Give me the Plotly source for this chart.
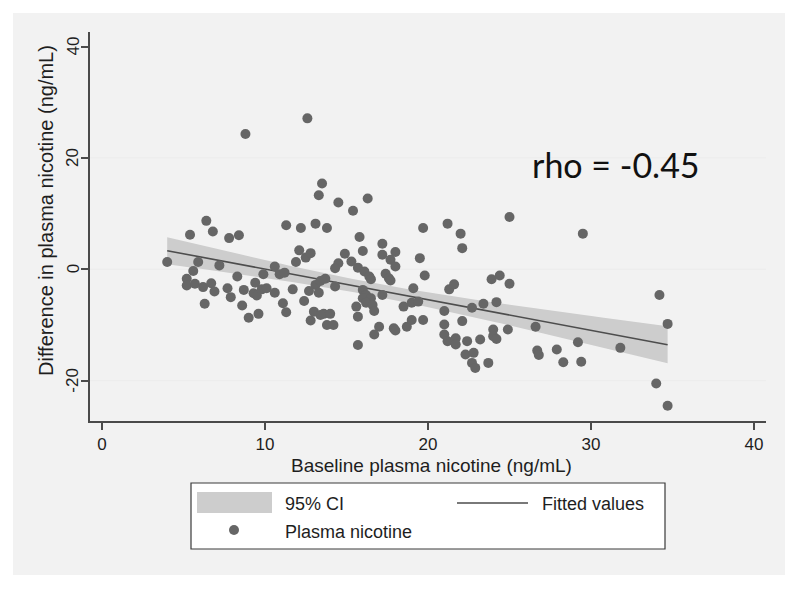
import numpy as np
import plotly.graph_objects as go

# ---- data ----
baseline = [
    4.0, 5.4, 6.4, 6.8, 7.8, 8.4, 8.8, 5.9, 5.6, 5.2,
    5.2, 5.7, 6.2, 6.7, 6.9, 7.2, 6.3, 7.7, 7.9, 8.3,
    8.6, 8.7, 9.0, 9.6, 9.4, 9.3, 9.5, 9.8, 9.9, 10.1,
    10.6, 10.6, 10.9, 11.2, 11.1, 11.3, 11.7, 11.3, 12.2, 13.1,
    11.9, 12.1, 12.5, 12.8, 12.4, 12.8, 13.0, 13.1, 12.7, 12.6,
    13.5, 13.3, 14.5, 15.4, 16.3, 13.8, 15.8, 17.2, 19.7, 21.2,
    22.0, 22.1, 16.0, 17.2, 18.0, 17.7, 18.0, 14.9, 14.5, 14.3,
    15.3, 15.7, 16.1, 16.4, 16.5, 17.4, 17.6, 17.7, 19.5, 19.8,
    13.4, 13.7, 13.3, 14.3, 16.0, 16.2, 16.0, 16.5, 16.2, 16.6,
    16.7, 17.2, 19.1, 21.3, 21.6, 18.5, 19.0, 19.4, 15.6, 15.7,
    13.6, 14.0, 13.4, 13.8, 14.2, 17.0, 16.7, 17.9, 18.0, 18.7,
    19.0, 19.7, 15.7, 21.0, 21.0, 22.1, 21.0, 21.2, 21.7, 21.7,
    22.4, 23.2, 22.3, 22.8, 22.7, 22.9, 23.7, 22.7, 23.4, 24.2,
    23.9, 24.4, 25.0, 25.0, 29.5, 24.0, 24.0, 24.2, 24.9, 26.6,
    26.7, 26.8, 27.9, 28.3, 29.2, 29.4, 31.8, 34.2, 34.7, 34.0,
    34.7,
]
difference = [
    1.3, 6.2, 8.7, 6.8, 5.6, 6.1, 24.3, 1.3, -0.3, -1.7,
    -2.9, -2.6, -3.2, -2.5, -4.0, 0.7, -6.2, -3.4, -5.0, -1.3,
    -6.5, -3.7, -8.7, -8.0, -2.4, -4.3, -4.7, -3.6, -0.9, -3.4,
    0.5, -4.2, -0.9, -0.6, -6.1, -7.7, -3.6, 7.9, 7.4, 8.2,
    1.3, 3.4, 2.1, 2.9, -5.7, -9.2, -7.6, -2.8, -3.9, 27.1,
    15.4, 13.3, 12.0, 10.5, 12.7, 7.4, 5.8, 4.6, 7.4, 8.2,
    6.4, 3.8, 3.3, 2.6, 3.1, 1.7, 0.5, 2.8, 1.1, 0.2,
    1.4, 0.3, -0.4, -1.3, -1.8, -0.8, -1.6, -2.0, 2.0, -1.1,
    -2.1, -1.7, -4.2, -3.1, -3.7, -4.6, -5.2, -5.2, -6.0, -6.4,
    -7.5, -4.6, -3.4, -3.6, -2.7, -6.7, -6.0, -5.8, -6.7, -8.5,
    -8.0, -8.0, -8.2, -10.0, -10.0, -10.3, -11.7, -10.6, -11.0, -10.3,
    -9.1, -9.1, -13.6, -7.5, -9.9, -9.3, -11.7, -12.9, -12.4, -13.5,
    -12.9, -12.6, -15.3, -15.0, -16.8, -17.7, -16.8, -6.9, -6.2, -5.9,
    -1.8, -1.1, -2.6, 9.4, 6.4, -10.8, -12.0, -12.5, -10.8, -10.3,
    -14.6, -15.4, -14.4, -16.7, -13.1, -16.6, -14.1, -4.6, -9.8, -20.5,
    -24.5,
]
x_ticks = [0, 10, 20, 30, 40]
y_ticks = [-20, 0, 20, 40]
y_grid = [-20, 0, 20]
legend_labels = ["95% CI", "Fitted values", "Plasma nicotine"]
x_title = "Baseline plasma nicotine (ng/mL)"
y_title = "Difference in plasma nicotine (ng/mL)"
rho_text = "rho = -0.45"

assert len(baseline) == len(difference)

# ---- linear fit with 95% CI of the mean (as Stata lfitci) ----
xa = np.array(baseline)
ya = np.array(difference)
n = len(xa)
slope, intercept = np.polyfit(xa, ya, 1)
resid = ya - (intercept + slope * xa)
s = np.sqrt(np.sum(resid ** 2) / (n - 2))
sxx = np.sum((xa - xa.mean()) ** 2)
xg = np.linspace(xa.min(), xa.max(), 100)
yg = intercept + slope * xg
se = s * np.sqrt(1.0 / n + (xg - xa.mean()) ** 2 / sxx)
tcrit = 1.976
lo = yg - tcrit * se
hi = yg + tcrit * se

# ---- layout geometry (reference-window pixels) ----
OFF = 8            # page body margin of the html page
W, H = 800, 589
PL, PR, PT, PB = 90, 766, 32, 421


def pxx(p):
    return (p - PL) / (PR - PL)


def pyy(p):
    return (PB - p) / (PB - PT)


POINT_C = "#666666"
LINE_C = "#4d4d4d"
CI_C = "#cdcdcd"
TXT_C = "#1e1e1e"
FONT = "Liberation Sans, Arial, sans-serif"

fig = go.Figure()
fig.add_trace(go.Scatter(
    x=np.concatenate([xg, xg[::-1]]), y=np.concatenate([hi, lo[::-1]]),
    fill="toself", fillcolor=CI_C, line=dict(width=0), mode="lines",
    hoverinfo="skip", showlegend=False))
fig.add_trace(go.Scatter(
    x=xg, y=yg, mode="lines", line=dict(color=LINE_C, width=1.6),
    showlegend=False))
fig.add_trace(go.Scatter(
    x=baseline, y=difference, mode="markers",
    marker=dict(color=POINT_C, size=10, line=dict(width=0)),
    showlegend=False))

x_per = 16.3
y_per = 5.57
xr0 = (PL - 102) / x_per
xr1 = (PR - 102) / x_per
yr0 = (269.3 - PB) / y_per
yr1 = (269.3 - PT) / y_per

shapes = []
# outer gray panel
shapes.append(dict(type="rect", xref="paper", yref="paper",
                   x0=pxx(13), x1=pxx(785), y0=pyy(575), y1=pyy(13),
                   fillcolor="#f2f2f2", line=dict(width=0), layer="below"))
# gridlines
for g in y_grid:
    shapes.append(dict(type="line", xref="x", yref="y", x0=xr0, x1=xr1,
                       y0=g, y1=g, line=dict(color="#ececec", width=1),
                       layer="below"))
# legend box
shapes.append(dict(type="rect", xref="paper", yref="paper",
                   x0=pxx(191), x1=pxx(665), y0=pyy(549), y1=pyy(483),
                   fillcolor="white", line=dict(color="#3a3a3a", width=1.2)))
shapes.append(dict(type="rect", xref="paper", yref="paper",
                   x0=pxx(197), x1=pxx(272), y0=pyy(513), y1=pyy(492),
                   fillcolor=CI_C, line=dict(width=0)))
shapes.append(dict(type="line", xref="paper", yref="paper",
                   x0=pxx(457), x1=pxx(528), y0=pyy(503), y1=pyy(503),
                   line=dict(color=LINE_C, width=1.6)))
shapes.append(dict(type="circle", xref="paper", yref="paper",
                   x0=pxx(229), x1=pxx(239), y0=pyy(535), y1=pyy(525),
                   fillcolor=POINT_C, line=dict(width=0)))

ann = []
ann.append(dict(text=legend_labels[0], xref="paper", yref="paper",
                x=pxx(283), y=pyy(504), xanchor="left", yanchor="middle",
                showarrow=False, font=dict(family=FONT, size=18, color=TXT_C)))
ann.append(dict(text=legend_labels[1], xref="paper", yref="paper",
                x=pxx(540), y=pyy(504), xanchor="left", yanchor="middle",
                showarrow=False, font=dict(family=FONT, size=18, color=TXT_C)))
ann.append(dict(text=legend_labels[2], xref="paper", yref="paper",
                x=pxx(283), y=pyy(532), xanchor="left", yanchor="middle",
                showarrow=False, font=dict(family=FONT, size=18, color=TXT_C)))
ann.append(dict(text=x_title, xref="paper", yref="paper",
                x=pxx(431), y=pyy(466), xanchor="center", yanchor="middle",
                showarrow=False, font=dict(family=FONT, size=19, color=TXT_C)))
ann.append(dict(text=y_title, xref="paper", yref="paper", textangle=-90,
                x=pxx(46), y=pyy(211), xanchor="center", yanchor="middle",
                showarrow=False, font=dict(family=FONT, size=20, color=TXT_C)))
ann.append(dict(text=rho_text, xref="paper", yref="paper",
                x=pxx(530), y=pyy(164), xanchor="left", yanchor="middle",
                showarrow=False, font=dict(family="Lato, sans-serif", size=34, color="#111111")))
# y tick labels (vertical, close to the axis as in the reference)
for t in y_ticks:
    ann.append(dict(text=str(t), xref="paper", yref="y", textangle=-90,
                    x=pxx(73), y=t, xanchor="center", yanchor="middle",
                    showarrow=False, font=dict(family=FONT, size=17, color=TXT_C)))

fig.update_layout(
    width=W - OFF, height=H - OFF,
    margin=dict(l=PL - OFF, r=W - PR, t=PT - OFF, b=H - PB, pad=0),
    paper_bgcolor="white", plot_bgcolor="white",
    showlegend=False,
    shapes=shapes, annotations=ann,
    xaxis=dict(range=[xr0, xr1], tickvals=x_ticks, showgrid=False,
               zeroline=False, showline=True, linecolor="#4a4a4a", linewidth=1.5,
               ticks="outside", ticklen=7, tickcolor="#4a4a4a", tickwidth=1.5,
               tickfont=dict(family=FONT, size=17, color=TXT_C)),
    yaxis=dict(range=[yr0, yr1], tickvals=y_ticks, showgrid=False,
               zeroline=False, showline=True, linecolor="#4a4a4a", linewidth=1.5,
               ticks="outside", ticklen=7, tickcolor="#4a4a4a", tickwidth=1.5,
               showticklabels=False),
)

fig.write_html("out.html")
